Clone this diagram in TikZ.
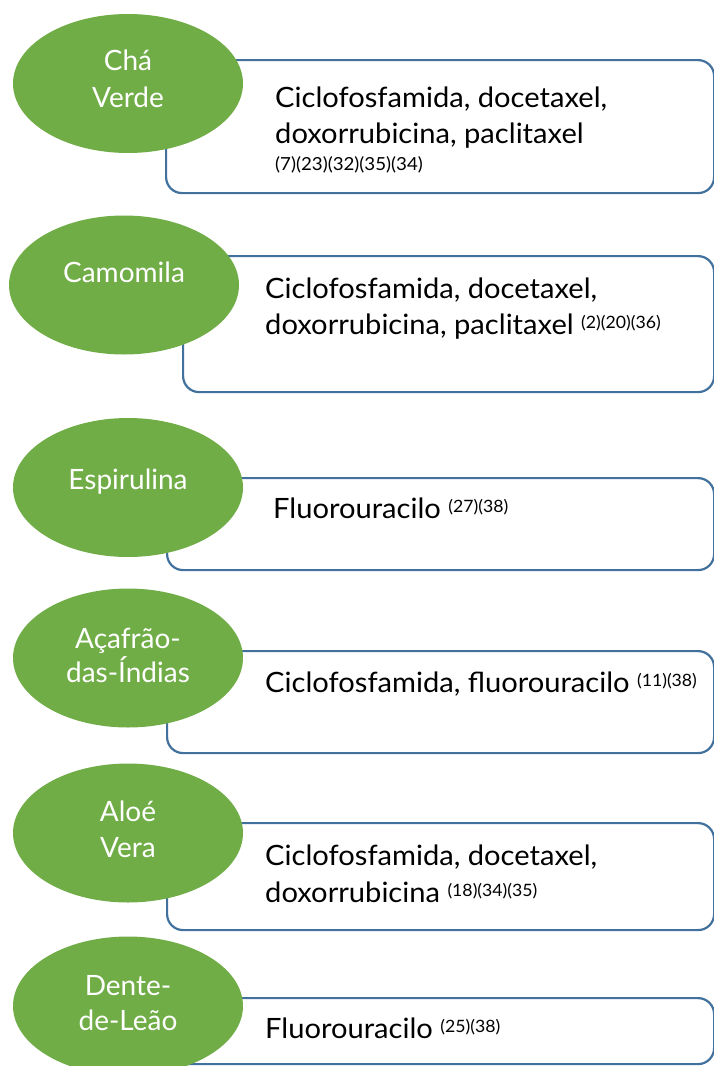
\documentclass[tikz,border=0pt]{standalone}
\usepackage{fontspec}
\setmainfont{Lato}
\newfontfamily\cardfont[FakeStretch=1.04]{Lato}
\usetikzlibrary{shapes.geometric}
\definecolor{leaf}{HTML}{70AD47}
\definecolor{edgeblue}{HTML}{41719C}
\newcommand\refsup[1]{\raisebox{6pt}{\fontsize{17}{17}\selectfont #1}}
\begin{document}
\begin{tikzpicture}[x=1pt,y=-1pt,
  herb/.style={ellipse, fill=leaf, draw=none, minimum width=230pt, minimum height=139pt, inner sep=0pt},
  card/.style={rectangle, draw=edgeblue, line width=2.2pt, rounded corners=16pt, fill=white, anchor=north west, inner sep=0pt},
  hlab/.style={anchor=base, text=white, inner sep=0pt, font=\fontsize{28}{30}\selectfont},
  tlab/.style={anchor=base west, inner sep=0pt, font=\cardfont\fontsize{28}{30}\selectfont},
  rlab/.style={anchor=base west, inner sep=0pt, font=\cardfont\fontsize{18}{20}\selectfont}]
\useasboundingbox (0,0) rectangle (714,1066);
\begin{scope}
\clip (0,0) rectangle (714,1066);
% cards
\node[card, minimum width=548pt, minimum height=133pt] (b1) at (165,59) {};
\node[card, minimum width=531pt, minimum height=136pt] (b2) at (182,255) {};
\node[card, minimum width=547pt, minimum height=92pt]  (b3) at (166,477) {};
\node[card, minimum width=547pt, minimum height=102pt] (b4) at (166,650) {};
\node[card, minimum width=547pt, minimum height=107pt] (b5) at (166,822) {};
\node[card, minimum width=547pt, minimum height=66pt]  (b6) at (166,997) {};
% ellipses
\node[herb] (e1) at (128,83.5) {};
\node[herb] (e2) at (124,285) {};
\node[herb] (e3) at (128,487.5) {};
\node[herb] (e4) at (128,658) {};
\node[herb] (e5) at (128,833) {};
\node[herb] (e6) at (128,1006) {};
\end{scope}
% ellipse labels
\node[hlab] (e1a) at (128,70) {Chá};
\node[hlab] (e1b) at (128,107) {Verde};
\node[hlab] (e2a) at (124,282) {Camomila};
\node[hlab] (e3a) at (128,489) {Espirulina};
\node[hlab] (e4a) at (128,648) {Açafrão-};
\node[hlab] (e4b) at (128,682) {das-Índias};
\node[hlab] (e5a) at (128,821) {Aloé};
\node[hlab] (e5b) at (128,857) {Vera};
\node[hlab] (e6a) at (128,995) {Dente-};
\node[hlab] (e6b) at (128,1030) {de-Leão};
% card texts
\node[tlab] (t1a) at (275,107) {Ciclofosfamida, docetaxel,};
\node[tlab] (t1b) at (275,143) {doxorrubicina, paclitaxel};
\node[rlab] (t1c) at (275,170) {(7)(23)(32)(35)(34)};
\node[tlab] (t2a) at (265,298) {Ciclofosfamida, docetaxel,};
\node[tlab] (t2b) at (265,334) {doxorrubicina, paclitaxel \refsup{(2)(20)(36)}};
\node[tlab] (t3a) at (273,518) {Fluorouracilo \refsup{(27)(38)}};
\node[tlab] (t4a) at (265,692) {Ciclofosfamida, fluorouracilo \refsup{(11)(38)}};
\node[tlab] (t5a) at (265,865) {Ciclofosfamida, docetaxel,};
\node[tlab] (t5b) at (265,902) {doxorrubicina \refsup{(18)(34)(35)}};
\node[tlab] (t6a) at (265,1038) {Fluorouracilo \refsup{(25)(38)}};
\end{tikzpicture}
\end{document}
